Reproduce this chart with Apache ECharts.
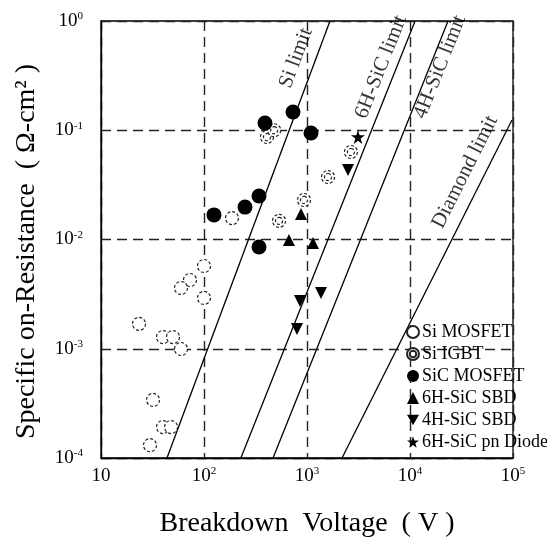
<!DOCTYPE html>
<html><head><meta charset="utf-8">
<script src="https://cdn.jsdelivr.net/npm/echarts@6/dist/echarts.min.js"></script>
<style>html,body{margin:0;padding:0;background:#fff}#c{width:547px;height:545px}</style>
</head><body><div id="c"></div>
<script>
// ---- data (V in volts, R in ohm-cm^2) ----
const xTicks = [10, 100, 1000, 10000, 100000];
const yTicks = [1e-4, 1e-3, 1e-2, 1e-1, 1];
const siMosfet = [[23.4,0.00169],[40,0.00128],[50,0.00128],[59.8,0.000995],[32,0.00034],[40,0.000192],[47.9,0.000192],[29.9,0.000131],[73.1,0.00426],[59.8,0.0036],[100,0.00572],[100,0.00292],[187,0.0157]];
const siIgbt = [[409,0.0867],[480,0.100],[535,0.0148],[935,0.0230],[1600,0.0373],[2670,0.0632]];
const sicMosfet = [[125,0.0168],[250,0.0198],[342,0.025],[342,0.00853],[391,0.1165],[731,0.147],[1094,0.0944]];
const sbd6H = [[668,0.00989],[875,0.0171],[1143,0.00929]];
const sbd4H = [[855,0.00274],[1368,0.00324],[800,0.00152],[2500,0.0433]];
const pn6H = [[3126,0.0867]];
const siLimit = [[43.7,1e-4],[1671,1]];
const h6Limit = [[228,1e-4],[11200,1]];
const h4Limit = [[468,1e-4],[23400,1]];
const diamondLimit = [[2188,1e-4],[97700,0.124]];
const limitNames = ['Si limit','6H-SiC limit','4H-SiC limit','Diamond limit'];
const limitLabelAt = [[782,0.458],[5224,0.379],[19540,0.379],[34200,0.0415]];
const limitAngles = [69.5, 68.3, 68.2, 63.3];
const legendNames = ['Si MOSFET','Si IGBT','SiC MOSFET','6H-SiC SBD','4H-SiC SBD','6H-SiC pn Diode'];

const FF = '"Liberation Serif", "Times New Roman", serif';
const chart = echarts.init(document.getElementById('c'));
function expLabel(v, isX){
  const e = Math.round(Math.log10(v));
  if (isX && e === 1) return '{b|10}';
  return '{b|10}{s|' + e + '}';
}
const rich = {
  b:{fontSize:19, fontFamily:FF, color:'#000', lineHeight:20},
  s:{fontSize:11, fontFamily:FF, color:'#000', lineHeight:12, verticalAlign:'top'}
};
const lineSer = (d) => ({type:'line', data:d, symbol:'none', silent:true,
  lineStyle:{color:'#000', width:1.3}, z:3, animation:false});
const labelSer = limitNames.map((n,i)=>({
  type:'scatter', data:[limitLabelAt[i]], symbolSize:0, silent:true,
  itemStyle:{color:'rgba(0,0,0,0)'},
  label:{show:true, position:'inside', formatter:n, rotate:limitAngles[i],
    fontFamily:FF, fontSize:21, color:'#000'}
}));
const starPath = 'path://M12 0L14.8 8.6L24 8.6L16.6 14L19.4 22.8L12 17.4L4.6 22.8L7.4 14L0 8.6L9.2 8.6Z';
const downTri = 'path://M0 0L24 0L12 21Z';
const igbtPath = 'path://M12 1A11 11 0 1 1 12 23A11 11 0 1 1 12 1ZM12 6A6 6 0 1 1 12 18A6 6 0 1 1 12 6Z';
chart.setOption({
  animation:false,
  backgroundColor:'#fff',
  grid:{left:101, top:21, width:412, height:437, show:true, borderColor:'#000', borderWidth:1.3, backgroundColor:'transparent'},
  xAxis:{type:'log', logBase:10, min:xTicks[0], max:xTicks[xTicks.length-1],
    axisLine:{show:true, lineStyle:{color:'#000', width:1.3}}, axisTick:{show:false},
    axisLabel:{margin:8, formatter:v=>expLabel(v,true), rich:rich},
    splitLine:{show:true, lineStyle:{color:'#222', width:1.4, type:[10,6]}},
    minorTick:{show:false}, minorSplitLine:{show:false},
    name:'Breakdown  Voltage  ( V )', nameLocation:'middle', nameGap:52,
    nameTextStyle:{fontFamily:FF, fontSize:28, color:'#000'}},
  yAxis:{type:'log', logBase:10, min:yTicks[0], max:yTicks[yTicks.length-1],
    axisLine:{show:true, lineStyle:{color:'#000', width:1.3}}, axisTick:{show:false},
    axisLabel:{margin:18, formatter:v=>expLabel(v,false), rich:rich},
    splitLine:{show:true, lineStyle:{color:'#222', width:1.4, type:[10,6]}},
    name:'Specific on-Resistance  ( Ω-cm² )', nameLocation:'middle', nameGap:60,
    nameTextStyle:{fontFamily:FF, fontSize:28, color:'#000', padding:[0,0,0,-24]}},
  legend:{orient:'vertical', left:401, top:318, itemWidth:12, itemHeight:12, itemGap:4,
    data:legendNames, textStyle:{fontFamily:FF, fontSize:18, color:'#000', padding:[0,0,0,-2]}},
  series:[
    lineSer(siLimit), lineSer(h6Limit), lineSer(h4Limit), lineSer(diamondLimit),
    ...labelSer,
    {name:'Si MOSFET', type:'scatter', data:siMosfet, symbol:'circle', symbolSize:13, z:4,
      itemStyle:{color:'#fff', opacity:1, borderColor:'#222', borderWidth:1.2, borderType:[3,2]}},
    {name:'Si IGBT', type:'scatter', data:siIgbt, symbol:igbtPath, symbolSize:13, z:4,
      itemStyle:{color:'#fff', opacity:1, borderColor:'#222', borderWidth:1.2, borderType:[3,2]}},
    {name:'SiC MOSFET', type:'scatter', data:sicMosfet, symbol:'circle', symbolSize:15, z:5,
      itemStyle:{color:'#000', opacity:1}},
    {name:'6H-SiC SBD', type:'scatter', data:sbd6H, symbol:'triangle', symbolSize:12, z:5,
      itemStyle:{color:'#000', opacity:1}},
    {name:'4H-SiC SBD', type:'scatter', data:sbd4H, symbol:downTri, symbolSize:12, z:5,
      itemStyle:{color:'#000', opacity:1}},
    {name:'6H-SiC pn Diode', type:'scatter', data:pn6H, symbol:starPath, symbolSize:14, z:5,
      itemStyle:{color:'#000', opacity:1}}
  ]
});
</script></body></html>
